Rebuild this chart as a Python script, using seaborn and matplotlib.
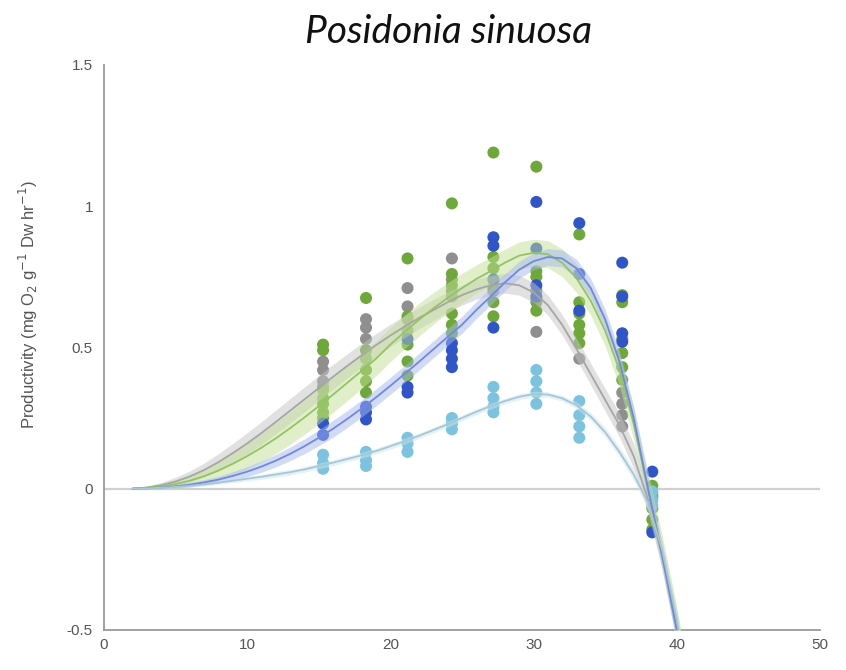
import numpy as np
import pandas as pd
import matplotlib
matplotlib.use("Agg")
import matplotlib.pyplot as plt
import seaborn as sns

# ---------------- data ----------------
series = ["grey", "green", "blue", "lightblue"]

# measured temperatures (columns of points)
temps = [15.3, 18.3, 21.2, 24.3, 27.2, 30.2, 33.2, 36.2, 38.3]

grey_pts = [[0.45, 0.42, 0.38, 0.36], [0.60, 0.57, 0.53], [0.71, 0.645, 0.60],
            [0.815, 0.74, 0.70], [0.74, 0.70], [0.66, 0.555], [0.46],
            [0.34, 0.30, 0.26, 0.22], [-0.02]]
green_pts = [[0.51, 0.49, 0.35, 0.32, 0.30, 0.27, 0.25],
             [0.675, 0.49, 0.46, 0.42, 0.38, 0.34],
             [0.815, 0.61, 0.56, 0.51, 0.45, 0.40],
             [1.01, 0.76, 0.72, 0.68, 0.62, 0.58, 0.55],
             [1.19, 0.82, 0.78, 0.71, 0.66, 0.61],
             [1.14, 0.77, 0.75, 0.70, 0.67, 0.63],
             [0.90, 0.66, 0.62, 0.58, 0.55, 0.515],
             [0.685, 0.66, 0.53, 0.48, 0.43, 0.385],
             [0.01, -0.03, -0.07, -0.11, -0.145]]
blue_pts = [[0.23, 0.19], [0.29, 0.27, 0.245], [0.53, 0.36, 0.34],
            [0.515, 0.49, 0.46, 0.43], [0.89, 0.86, 0.74, 0.57],
            [1.015, 0.85, 0.72, 0.68], [0.94, 0.76, 0.63],
            [0.80, 0.68, 0.55, 0.52], [0.06, -0.155]]
lightblue_pts = [[0.12, 0.09, 0.07], [0.13, 0.10, 0.08], [0.18, 0.16, 0.13],
                 [0.25, 0.23, 0.21], [0.36, 0.32, 0.29, 0.27],
                 [0.42, 0.38, 0.34, 0.30], [0.31, 0.26, 0.22, 0.18],
                 [], [-0.01, -0.04, -0.06]]

# fitted curves at each degree (2 .. 41 degC)
curve_T = list(range(2, 42))
grey_fit = [0.0, 0.004, 0.012, 0.025, 0.043, 0.066, 0.094, 0.126, 0.16, 0.197,
            0.236, 0.276, 0.316, 0.356, 0.396, 0.435, 0.472, 0.508, 0.542, 0.574,
            0.604, 0.632, 0.66, 0.685, 0.705, 0.72, 0.727, 0.72, 0.695, 0.65,
            0.58, 0.495, 0.405, 0.315, 0.225, 0.115, -0.04, -0.24, -0.48, -0.76]
green_fit = [0.0, 0.003, 0.008, 0.016, 0.028, 0.044, 0.064, 0.088, 0.115, 0.145,
             0.178, 0.214, 0.252, 0.292, 0.333, 0.375, 0.417, 0.46, 0.51, 0.555,
             0.598, 0.638, 0.675, 0.71, 0.742, 0.77, 0.80, 0.825, 0.835, 0.83,
             0.80, 0.745, 0.665, 0.56, 0.42, 0.23, 0.0, -0.23, -0.48, -0.76]
blue_fit = [0.0, 0.001, 0.004, 0.008, 0.014, 0.022, 0.032, 0.045, 0.06, 0.078,
            0.099, 0.123, 0.15, 0.18, 0.212, 0.247, 0.284, 0.323, 0.364, 0.406,
            0.449, 0.493, 0.537, 0.58, 0.632, 0.68, 0.73, 0.775, 0.805, 0.82,
            0.815, 0.78, 0.71, 0.60, 0.45, 0.25, 0.0, -0.24, -0.50, -0.78]
lightblue_fit = [0.0, 0.001, 0.003, 0.006, 0.01, 0.015, 0.021, 0.028, 0.035, 0.042,
                 0.05, 0.058, 0.068, 0.08, 0.092, 0.105, 0.118, 0.133, 0.15, 0.168,
                 0.187, 0.207, 0.228, 0.25, 0.272, 0.292, 0.31, 0.325, 0.335, 0.333,
                 0.32, 0.295, 0.255, 0.20, 0.13, 0.05, -0.05, -0.22, -0.46, -0.75]

# half widths of the confidence bands
grey_band = [0.0, 0.005, 0.01, 0.015, 0.02, 0.025, 0.03, 0.034, 0.038, 0.04,
             0.042, 0.043, 0.044, 0.044, 0.044, 0.043, 0.042, 0.041, 0.04, 0.039,
             0.038, 0.037, 0.036, 0.035, 0.035, 0.035, 0.035, 0.035, 0.035, 0.035,
             0.036, 0.037, 0.038, 0.04, 0.042, 0.044, 0.046, 0.048, 0.05, 0.052]
green_band = [0.0, 0.005, 0.01, 0.016, 0.022, 0.028, 0.034, 0.04, 0.045, 0.05,
              0.054, 0.057, 0.06, 0.062, 0.063, 0.063, 0.062, 0.061, 0.06, 0.059,
              0.058, 0.056, 0.054, 0.052, 0.05, 0.049, 0.048, 0.048, 0.048, 0.048,
              0.049, 0.05, 0.052, 0.054, 0.056, 0.058, 0.06, 0.062, 0.064, 0.066]
blue_band = [0.0, 0.002, 0.004, 0.006, 0.008, 0.01, 0.012, 0.015, 0.018, 0.02,
             0.022, 0.024, 0.026, 0.028, 0.03, 0.03, 0.03, 0.03, 0.03, 0.03,
             0.03, 0.03, 0.03, 0.03, 0.03, 0.03, 0.03, 0.03, 0.03, 0.03,
             0.03, 0.032, 0.034, 0.036, 0.038, 0.04, 0.042, 0.044, 0.046, 0.048]
lightblue_band = [0.0, 0.001, 0.002, 0.003, 0.004, 0.005, 0.006, 0.007, 0.008, 0.009,
                  0.01, 0.01, 0.01, 0.01, 0.01, 0.01, 0.01, 0.01, 0.01, 0.01,
                  0.01, 0.01, 0.01, 0.01, 0.01, 0.01, 0.01, 0.01, 0.01, 0.01,
                  0.01, 0.012, 0.014, 0.016, 0.018, 0.02, 0.022, 0.024, 0.026, 0.028]

x_ticks = [0, 10, 20, 30, 40, 50]
y_ticks = [-0.5, 0, 0.5, 1, 1.5]
y_tick_labels = ["-0.5", "0", "0.5", "1", "1.5"]
title = "Posidonia sinuosa"
ylabel = "Productivity (mg O$_2$ g$^{-1}$ Dw hr$^{-1}$)"

# ---------------- styles ----------------
dot_colors = {"grey": "#8f8f8f", "green": "#6fa83a", "blue": "#2f55c8", "lightblue": "#7cc3df"}
band_colors = {"grey": "#c4c4c4", "green": "#c2e096", "blue": "#a6b8ef", "lightblue": "#c9e6f1"}
line_colors = {"grey": "#a6a6a6", "green": "#93c463", "blue": "#7088e2", "lightblue": "#a9c6d3"}

pts_all = {"grey": grey_pts, "green": green_pts, "blue": blue_pts, "lightblue": lightblue_pts}
fits = {"grey": grey_fit, "green": green_fit, "blue": blue_fit, "lightblue": lightblue_fit}
bands = {"grey": grey_band, "green": green_band, "blue": blue_band, "lightblue": lightblue_band}

rows = []
for s in series:
    for t, vals in zip(temps, pts_all[s]):
        for v in vals:
            rows.append({"T": t, "P": v, "series": s})
pts_df = pd.DataFrame(rows)

crows = []
for s in series:
    for t, v in zip(curve_T, fits[s]):
        crows.append({"T": t, "P": v, "series": s})
curve_df = pd.DataFrame(crows)

sns.set_style("white")
plt.rcParams["font.family"] = ["Liberation Sans", "DejaVu Sans"]
fig = plt.figure(figsize=(8.46, 6.70), dpi=100)
ax = fig.add_axes([0.123, 0.06, 0.846, 0.843])

ax.axhline(0, color="#cfcfcf", lw=1.6, zorder=1)

sns.scatterplot(data=pts_df, x="T", y="P", hue="series", hue_order=series,
                palette=dot_colors, s=75, edgecolor="none", legend=False,
                ax=ax, zorder=3)

for s in series:
    c = np.array(fits[s])
    h = np.array(bands[s])
    ax.fill_between(curve_T, c - h, c + h, color=band_colors[s], alpha=0.5,
                    lw=0, zorder=4)

sns.lineplot(data=curve_df, x="T", y="P", hue="series", hue_order=series,
             palette=line_colors, estimator=None, sort=False, lw=1.3,
             legend=False, ax=ax, zorder=5)

ax.set_xlim(0, 50)
ax.set_ylim(-0.5, 1.5)
ax.set_xticks(x_ticks)
ax.set_xticklabels([str(v) for v in x_ticks])
ax.set_yticks(y_ticks)
ax.set_yticklabels(y_tick_labels)
ax.tick_params(direction="in", length=4, width=1, color="#9a9a9a",
               labelcolor="#555555", labelsize=11)
ax.tick_params(axis="y", pad=8)
ax.tick_params(axis="x", pad=6)
for side in ["top", "right"]:
    ax.spines[side].set_visible(False)
for side in ["left", "bottom"]:
    ax.spines[side].set_color("#9a9a9a")
    ax.spines[side].set_linewidth(1.3)
ax.set_xlabel("")
ax.set_ylabel(ylabel, fontsize=12, color="#555555")
ax.yaxis.set_label_coords(-0.09, 0.575)

fig.text(0.53, 0.952, title, style="italic", fontsize=28, ha="center",
         va="center", color="#111111", family="Lato")

fig.savefig("out.png", dpi=100)
